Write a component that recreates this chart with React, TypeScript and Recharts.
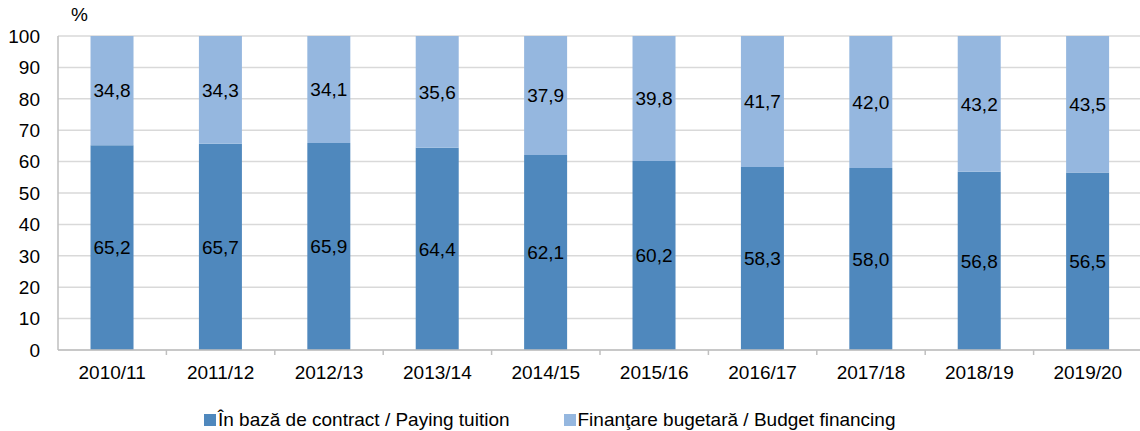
import { BarChart, Bar, XAxis, YAxis, CartesianGrid, LabelList, Legend } from 'recharts';

const years = ['2010/11', '2011/12', '2012/13', '2013/14', '2014/15', '2015/16', '2016/17', '2017/18', '2018/19', '2019/20'];
const payingTuition = [65.2, 65.7, 65.9, 64.4, 62.1, 60.2, 58.3, 58.0, 56.8, 56.5];
const budgetFinancing = [34.8, 34.3, 34.1, 35.6, 37.9, 39.8, 41.7, 42.0, 43.2, 43.5];
const yTicks = [0, 10, 20, 30, 40, 50, 60, 70, 80, 90, 100];

const DARK = '#4F88BD';
const LIGHT = '#95B7DF';
const FONT = '"Liberation Sans", Arial, sans-serif';

const CHART_W = 1142;
const Y_AXIS_W = 58;
const BAND = (CHART_W - Y_AXIS_W) / years.length;

const data = years.map((year, i) => ({
  year,
  paying: payingTuition[i],
  budget: budgetFinancing[i],
}));

const fmt = (v: any) => Number(v).toFixed(1).replace('.', ',');

// category label plus the small boundary tick mark on its left
const XTick = (props: any) => {
  const { x, y, payload, index } = props;
  return (
    <g>
      {index > 0 && <line x1={x - BAND / 2} x2={x - BAND / 2} y1={y - 8} y2={y - 3} stroke="#BFBFBF" strokeWidth={1.5} />}
      <text x={x} y={y + 21} textAnchor="middle" fontSize={19} fontFamily={FONT} fill="#000">{payload.value}</text>
    </g>
  );
};

const LegendContent = () => (
  <div style={{ display: 'flex', fontFamily: FONT, fontSize: 19, color: '#000', lineHeight: '30px' }}>
    {[
      { name: 'În bază de contract / Paying tuition', color: DARK },
      { name: 'Finanţare bugetară / Budget financing', color: LIGHT },
    ].map((item, idx) => (
      <span key={idx} style={{ display: 'flex', alignItems: 'center', marginRight: idx === 0 ? 54 : 0, whiteSpace: 'nowrap' }}>
        <span style={{ display: 'inline-block', width: 12, height: 12, background: item.color, marginRight: 2 }} />
        {item.name}
      </span>
    ))}
  </div>
);

export default function App() {
  return (
    <div style={{ position: 'absolute', left: 0, top: 0, width: 1140, height: 431, overflow: 'hidden', background: '#fff' }}>
      <div style={{ position: 'absolute', left: 71, top: 4, fontFamily: FONT, fontSize: 19 }}>%</div>
      <BarChart
        width={CHART_W}
        height={431}
        data={data}
        margin={{ top: 36, right: 0, left: 0, bottom: 11 }}
        barCategoryGap="30%"
      >
        <CartesianGrid vertical={false} stroke="#D9D9D9" strokeWidth={1.5} />
        <XAxis
          dataKey="year"
          tick={<XTick />}
          axisLine={{ stroke: '#BFBFBF', strokeWidth: 1.5 }}
          tickLine={false}
          tickSize={6}
          height={40}
          interval={0}
        />
        <YAxis
          domain={[0, 100]}
          ticks={yTicks}
          width={Y_AXIS_W}
          tick={{ fontSize: 19, fill: '#000', fontFamily: FONT }}
          axisLine={{ stroke: '#BFBFBF', strokeWidth: 1.5 }}
          tickLine={false}
          tickMargin={12}
        />
        <Legend
          verticalAlign="bottom"
          height={30}
          content={<LegendContent />}
          wrapperStyle={{ left: 204, top: 405, width: 'auto' }}
        />
        <Bar dataKey="paying" stackId="a" fill={DARK} isAnimationActive={false}>
          <LabelList dataKey="paying" position="center" formatter={fmt} style={{ fill: '#000', fontSize: 19, fontFamily: FONT }} />
        </Bar>
        <Bar dataKey="budget" stackId="a" fill={LIGHT} isAnimationActive={false}>
          <LabelList dataKey="budget" position="center" formatter={fmt} style={{ fill: '#000', fontSize: 19, fontFamily: FONT }} />
        </Bar>
      </BarChart>
    </div>
  );
}
